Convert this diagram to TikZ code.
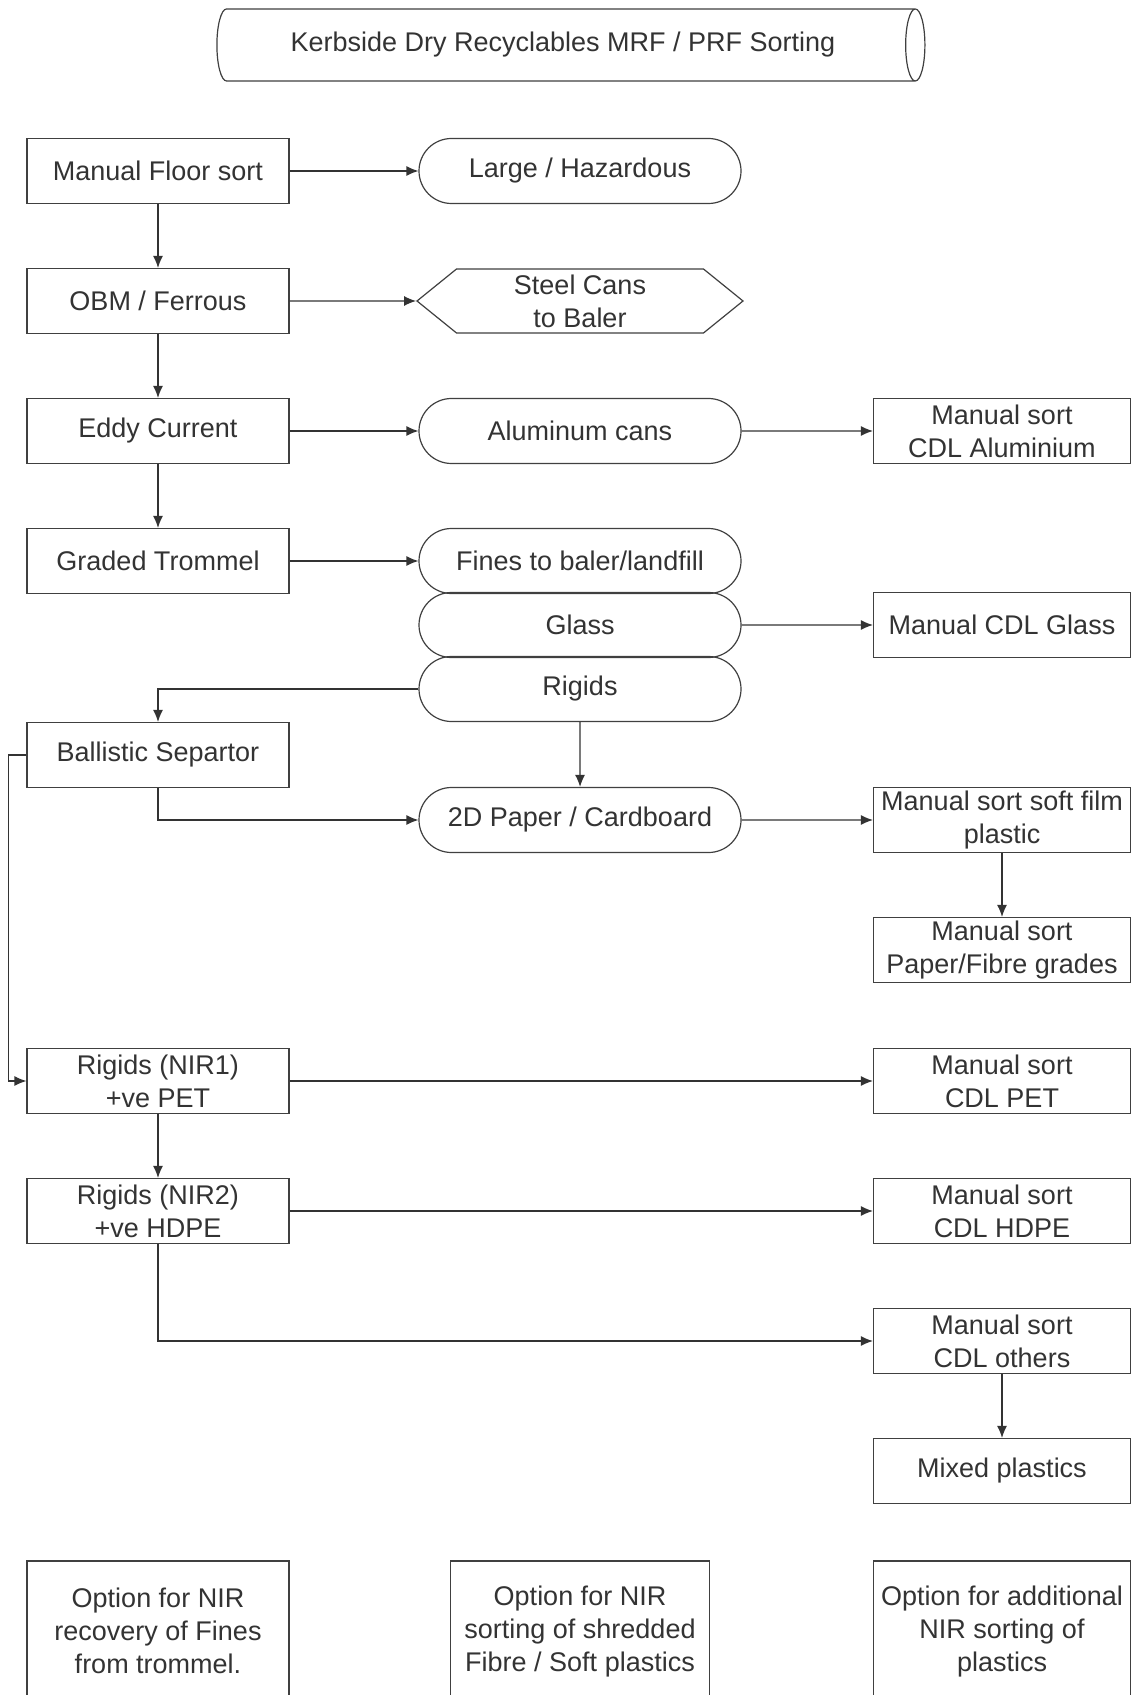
\documentclass[tikz,border=0pt]{standalone}
\usepackage{fontspec}
\setmainfont{Liberation Sans}
\usetikzlibrary{positioning,shapes.geometric,shapes.misc,shapes.symbols,arrows.meta}

\begin{document}
\begin{tikzpicture}[x=0.5pt, y=-0.5pt, node distance=65pt,
    every node/.style={font=\fontsize{13.5}{16.5}\selectfont, text=black!80, align=center},
    box/.style={draw=black!75, semithick, rectangle, minimum width=131pt, minimum height=32.5pt, inner sep=1pt},
    rbox/.style={box, minimum width=128.5pt},
    pill/.style={draw=black!75, semithick, rounded rectangle, minimum width=163pt, minimum height=32.5pt, inner sep=1pt},
    flow/.style={draw=black!80, semithick, -{Latex[length=6pt,width=5pt]}}]
    \useasboundingbox (0,0) rectangle (1132,1695);
    \fill[white] (0,0) rectangle (1132,1695);
    \clip (0,0) rectangle (1132,1695);

    % Title
    \node[draw=black!75, semithick, cylinder, aspect=0.5, minimum width=36pt, minimum height=354pt, shape border rotate=0] (title) at (563,45) {Kerbside Dry Recyclables MRF / PRF Sorting};

    % Left column
    \node[box] (fs) at (158,171) {Manual Floor sort};
    \node[box, below of=fs] (obm) {OBM / Ferrous};
    \node[box, below of=obm] (ec) {Eddy Current};
    \node[box, below of=ec] (gt) {Graded Trommel};
    \node[box, below of=gt, node distance=97pt] (bs) {Ballistic Separtor};
    \node[box, below of=bs, node distance=163pt] (nir1) {Rigids (NIR1)\\+ve PET};
    \node[box, below of=nir1] (nir2) {Rigids (NIR2)\\+ve HDPE};

    % Middle column
    \node[pill, right of=fs, node distance=211pt] (haz) {Large / Hazardous};
    \node[draw=black!75, semithick, signal, signal to=east and west, signal pointer angle=78, minimum width=163pt, minimum height=32pt, inner sep=1pt, right of=obm, node distance=211pt] (steel) {Steel Cans\\to Baler};
    \node[pill, right of=ec, node distance=211pt] (alu) {Aluminum cans};
    \node[pill, right of=gt, node distance=211pt] (fines) {Fines to baler/landfill};
    \node[pill, below of=fines, node distance=32pt] (glass) {Glass};
    \node[pill, below of=glass, node distance=32pt] (rig) {Rigids};
    \node[pill, below of=rig, node distance=65.5pt] (paper) {2D Paper / Cardboard};

    % Right column
    \node[rbox, right of=alu, node distance=211pt] (cdlalu) {Manual sort\\CDL Aluminium};
    \node[rbox, right of=glass, node distance=211pt] (cdlglass) {Manual CDL Glass};
    \node[rbox, right of=paper, node distance=211pt] (film) {Manual sort soft film\\plastic};
    \node[rbox, below of=film] (fibre) {Manual sort\\Paper/Fibre grades};
    \node[rbox, right of=nir1, node distance=422pt] (pet) {Manual sort\\CDL PET};
    \node[rbox, right of=nir2, node distance=422pt] (hdpe) {Manual sort\\CDL HDPE};
    \node[rbox, below of=hdpe] (others) {Manual sort\\CDL others};
    \node[rbox, below of=others] (mixed) {Mixed plastics};

    % Options
    \node[box, minimum height=70pt] (opt1) at (158,1631) {Option for NIR\\recovery of Fines\\from trommel.};
    \node[box, minimum width=129.5pt, minimum height=70pt] (opt2) at (580,1631) {Option for NIR\\sorting of shredded\\Fibre / Soft plastics};
    \node[rbox, minimum height=70pt] (opt3) at (1002,1631) {Option for additional\\NIR sorting of\\plastics};

    % Connectors
    \draw[flow] (fs) -- (haz);
    \draw[flow] (fs) -- (obm);
    \draw[flow] (obm) -- (steel);
    \draw[flow] (obm) -- (ec);
    \draw[flow] (ec) -- (alu);
    \draw[flow] (alu) -- (cdlalu);
    \draw[flow] (ec) -- (gt);
    \draw[flow] (gt) -- (fines);
    \draw[flow] (glass) -- (cdlglass);
    \draw[flow] (rig.west) -| (bs.north);
    \draw[flow] (rig) -- (paper);
    \draw[flow] (bs.south) |- (paper.west);
    \draw[flow] (bs.west) -- ++(-18,0) |- (nir1.west);
    \draw[flow] (paper) -- (film);
    \draw[flow] (film) -- (fibre);
    \draw[flow] (nir1) -- (pet);
    \draw[flow] (nir1) -- (nir2);
    \draw[flow] (nir2) -- (hdpe);
    \draw[flow] (nir2.south) |- (others.west);
    \draw[flow] (others) -- (mixed);
\end{tikzpicture}
\end{document}
